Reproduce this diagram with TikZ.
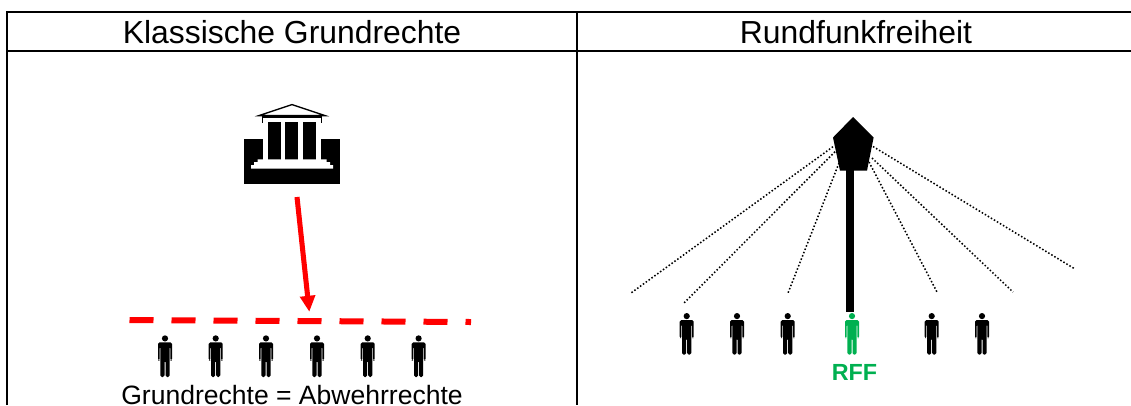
\documentclass[tikz,border=0pt]{standalone}
\usepackage{fontspec}
\setmainfont{Liberation Sans}
\usetikzlibrary{arrows.meta}
\definecolor{rffgreen}{RGB}{0,176,80}
\tikzset{
  frameline/.style={line width=1.5pt,black},
  titletext/.style={anchor=base,inner sep=0pt,font=\fontsize{23.9pt}{26pt}\selectfont},
  figtext/.style={anchor=base,inner sep=0pt,font=\fontsize{19.9pt}{22pt}\selectfont},
  rfftext/.style={anchor=base,inner sep=0pt,text=rffgreen,font=\bfseries\fontsize{17.5pt}{20pt}\selectfont},
  ray/.style={line width=1.15pt,black,dash pattern=on 1.15pt off 1.5pt},
  person/.pic={
    \fill[pic actions] (0,3.4) circle (3.1);
    \fill[pic actions,rounded corners=1.2] (-7,7.3) -- (7,7.3) -- (7,25.5) -- (5.3,25.5) -- (5.3,11.5) -- (4.6,11.5)
      -- (4.6,42) -- (0.5,42) -- (0.5,25.5) -- (-0.5,25.5) -- (-0.5,42) -- (-4.6,42) -- (-4.6,11.5)
      -- (-5.3,11.5) -- (-5.3,25.5) -- (-7,25.5) -- cycle;
  }
}
\begin{document}
\begin{tikzpicture}[x=0.75pt,y=-0.75pt]
\useasboundingbox (0,0) rectangle (1131,405);
% table
\coordinate (tl) at (7,12);
\coordinate (tr) at (1131,12);
\coordinate (bl) at (7,405);
\coordinate (hl) at (7,51);
\coordinate (hr) at (1131,51);
\coordinate (mt) at (577,12);
\coordinate (mb) at (577,405);
\draw[frameline] (bl) -- (tl) -- (tr);
\draw[frameline] (hl) -- (hr);
\draw[frameline] (mt) -- (mb);
\node[titletext] (t1) at (292,43) {Klassische Grundrechte};
\node[titletext] (t2) at (856,43) {Rundfunkfreiheit};
% building
\fill[black] (244,139.3) rectangle (340,184);
\fill[black] (265,120) rectangle (319,160);
\fill[black] (261.7,116) rectangle (321.7,122.7);
\fill[white] (263,118.2) rectangle (320.7,122.2);
\draw[black,fill=white,line width=1pt] (292,104.6) -- (325,115.6) -- (259,115.6) -- cycle;
\fill[white] (263.3,122) rectangle (268.3,159.5);
\fill[white] (281,122) rectangle (285.3,159.5);
\fill[white] (298.3,122) rectangle (302.7,159.5);
\fill[white] (315.7,122) rectangle (320.7,159.5);
\fill[white] (257.7,159.3) -- (326.7,159.3) -- (326.7,162) -- (330,162) -- (330,165) -- (333,165) -- (333,168.7) -- (251,168.7) -- (251,165) -- (254,165) -- (254,162) -- (257.7,162) -- cycle;
% red barrier and arrow
\coordinate (bar1) at (129.5,320);
\coordinate (bar2) at (471,322);
\draw[red,line width=4.5pt,dash pattern=on 18pt off 13.5pt] (bar1) -- (bar2);
\coordinate (arr1) at (297,197);
\coordinate (arr2) at (309.3,311.8);
\draw[red,line width=3.8pt,-{Triangle[length=12pt,width=11pt]}] (arr1) -- (arr2);
% left people
\foreach \x in {165,215.7,266,317,367.7,418.6}
  \pic[black] at (\x,335) {person};
\node[figtext] (t3) at (292,404.5) {Grundrechte = Abwehrrechte};
% tower
\coordinate (p1) at (853,117);
\coordinate (p2) at (873.6,137.5);
\coordinate (p3) at (867,170.7);
\coordinate (p4) at (840,170.7);
\coordinate (p5) at (833,137.5);
\fill[black] (845.7,165) rectangle (853.5,312.3);
\fill[black] (p1) -- (p2) -- (p3) -- (p4) -- (p5) -- cycle;
% rays
\coordinate (r1a) at (833,146.7);
\coordinate (r1b) at (631,293);
\coordinate (r2a) at (835,151.7);
\coordinate (r2b) at (683,304);
\coordinate (r3a) at (839,163);
\coordinate (r3b) at (788,293);
\coordinate (r4a) at (869,162);
\coordinate (r4b) at (937,292);
\coordinate (r5a) at (872,158);
\coordinate (r5b) at (1013,292);
\coordinate (r6a) at (873,146.5);
\coordinate (r6b) at (1075,269);
\foreach \n in {1,...,6} \draw[ray] (r\n a) -- (r\n b);
% right people
\foreach \x in {686.7,737,787.7,931.7,982}
  \pic[black] at (\x,312.7) {person};
\pic[rffgreen] at (852,312.7) {person};
\node[rfftext] (t4) at (854.5,380) {RFF};
\end{tikzpicture}
\end{document}
